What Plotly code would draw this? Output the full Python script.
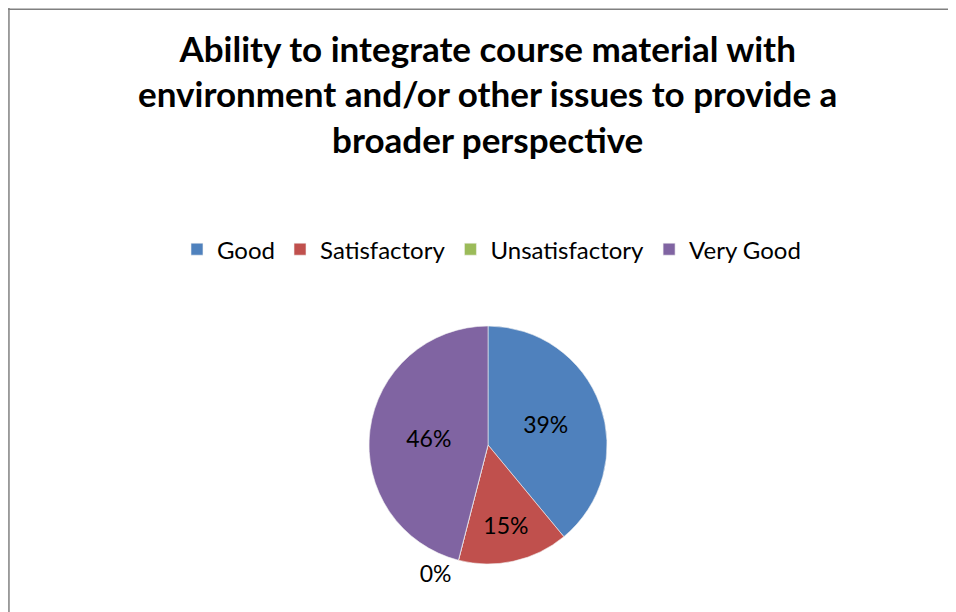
import plotly.graph_objects as go

# data
labels = ["Good", "Satisfactory", "Unsatisfactory", "Very Good"]
values = [39, 15, 0, 46]
colors = ["#4F81BD", "#C0504D", "#9BBB59", "#8064A2"]

title_text = ("Ability to integrate course material with<br>"
              "environment and/or other issues to provide a<br>"
              "broader perspective")

fig = go.Figure(go.Pie(
    labels=labels,
    values=values,
    sort=False,
    direction="clockwise",
    rotation=0,
    marker=dict(colors=colors, line=dict(color="#f2f2f2", width=0.6)),
    textinfo="percent",
    texttemplate="%{percent:.0%}",
    textposition=["inside", "inside", "outside", "inside"],
    insidetextorientation="horizontal",
    textfont=dict(color="black", size=23),
    domain=dict(x=[0.3808, 0.6319], y=[0.0795, 0.4735]),
    showlegend=True,
))

# page body has an 8px margin, so the figure is sized to fit inside the window
fig.update_layout(
    width=948, height=604,
    margin=dict(l=0, r=0, t=0, b=0),
    paper_bgcolor="white",
    font=dict(family="Lato", color="black"),
    title=dict(text=title_text, x=0.506, xanchor="center",
               y=0.911, yanchor="top", yref="container",
               font=dict(size=35, family="Lato", weight="bold")),
    legend=dict(orientation="h", x=0.51, xanchor="center", y=0.6, yanchor="middle",
                font=dict(size=24), itemwidth=30, traceorder="normal"),
    shapes=[
        dict(type="line", xref="paper", yref="paper", x0=0.001, x1=0.001, y0=0, y1=1,
             line=dict(color="#808080", width=1.5)),
        dict(type="line", xref="paper", yref="paper", x0=0, x1=1, y0=0.998, y1=0.998,
             line=dict(color="#808080", width=1.5)),
    ],
)

fig.write_html("out.html")
